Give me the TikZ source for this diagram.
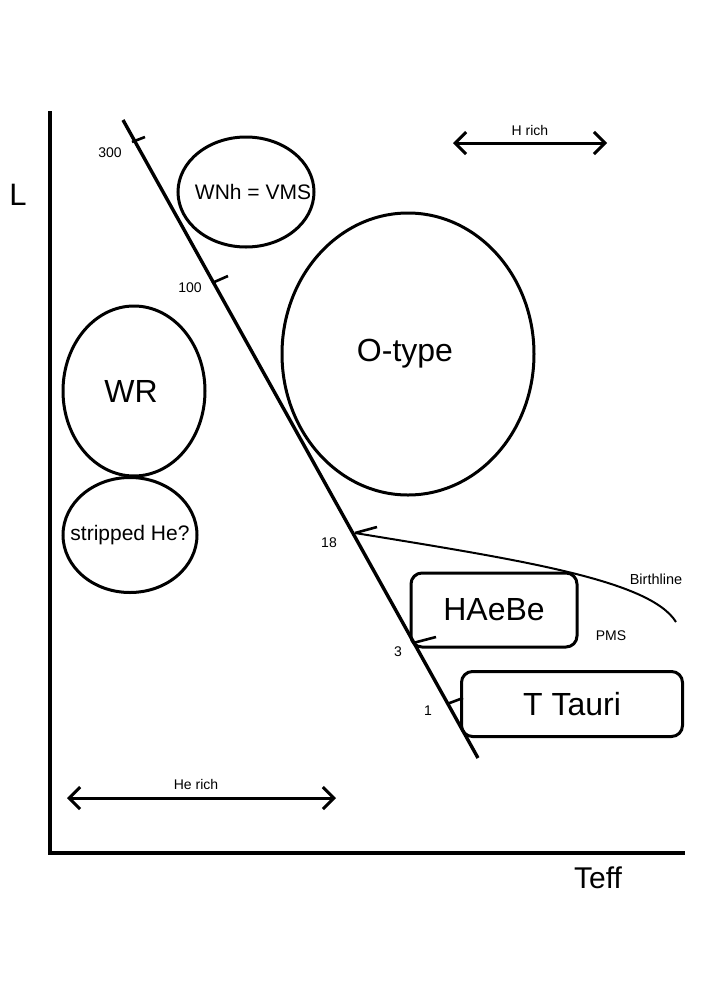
\documentclass[tikz,border=0pt]{standalone}
\usepackage{fontspec}
\setmainfont{Liberation Sans}
\usetikzlibrary{shapes.geometric,arrows.meta}
\begin{document}
\begin{tikzpicture}[x=1pt,y=-1pt,
  blob/.style={ellipse,draw,line width=3pt,inner sep=0pt},
  rbox/.style={rectangle,draw,line width=3pt,rounded corners=11pt,inner sep=0pt},
  bigtxt/.style={font=\fontsize{32}{36}\selectfont},
  midtxt/.style={font=\fontsize{21}{25}\selectfont},
  smalltxt/.style={font=\fontsize{14.5}{17}\selectfont},
  ticktxt/.style={font=\fontsize{14}{16}\selectfont},
  tickmark/.style={line width=2.6pt},
  richarrow/.style={line width=3pt,{Straight Barb[length=11pt,width=22pt,line width=3pt]}-{Straight Barb[length=11pt,width=22pt,line width=3pt]}},
  birth/.style={line width=2pt}]
\useasboundingbox (0,0) rectangle (709,1002);

% axes
\coordinate (ytop) at (50,111);
\coordinate (origin) at (50,853);
\coordinate (xend) at (685,853);
\draw[line width=3.6pt] (ytop) -- (origin) -- (xend);
\node[font=\fontsize{31}{36}\selectfont] (L) at (18,195) {L};
\node[font=\fontsize{30}{36}\selectfont] (Teff) at (598,878) {Teff};

% main sequence
\coordinate (msTop) at (123,120);
\coordinate (msBot) at (478,758);
\draw[line width=3.4pt] (msTop) -- (msBot);

% ticks
\coordinate (t300a) at (132,142); \coordinate (t300b) at (145,137);
\coordinate (t100a) at (212,283); \coordinate (t100b) at (228,276);
\coordinate (t18a) at (355,533);  \coordinate (t18b) at (377,527);
\coordinate (t3a) at (413,643);   \coordinate (t3b) at (436,637);
\coordinate (t1a) at (447,704);   \coordinate (t1b) at (463,698);
\draw[tickmark] (t300a) -- (t300b);
\draw[tickmark] (t100a) -- (t100b);
\draw[tickmark] (t18a) -- (t18b);
\draw[tickmark] (t3a) -- (t3b);
\draw[tickmark] (t1a) -- (t1b);
\node[ticktxt] (l300) at (110,153) {300};
\node[ticktxt] (l100) at (190,288) {100};
\node[ticktxt] (l18) at (329,543) {18};
\node[ticktxt] (l3) at (398,652) {3};
\node[ticktxt] (l1) at (428,711) {1};

% birthline
\coordinate (bEnd) at (676,622);
\draw[birth] (t18a) .. controls (520,560) and (650,580) .. (bEnd);
\node[smalltxt] (birthlbl) at (656,579) {Birthline};
\node[ticktxt] (pms) at (611,636) {PMS};

% ellipses
\node[blob,minimum width=136pt,minimum height=110pt] (wnh) at (246,192) {};
\node[midtxt] (wnhtxt) at ([xshift=7pt]wnh.center) {WNh = VMS};
\node[blob,minimum width=252pt,minimum height=282pt] (otype) at (408,354) {};
\node[bigtxt] (otypetxt) at ([xshift=-3pt]otype.center) {O-type};
\node[blob,minimum width=142pt,minimum height=170pt] (wr) at (134,391) {};
\node[bigtxt] (wrtxt) at ([xshift=-3pt]wr.center) {WR};
\node[blob,minimum width=134pt,minimum height=115pt] (strip) at (130,535) {};
\node[midtxt] (striptxt) at (strip.center) {stripped He?};

% boxes
\node[rbox,minimum width=166pt,minimum height=74pt,bigtxt] (haebe) at (494,610) {HAeBe};
\node[rbox,minimum width=221pt,minimum height=65pt,bigtxt] (ttauri) at (572,704) {T Tauri};

% composition arrows
\coordinate (hL) at (453,143); \coordinate (hR) at (607,143);
\draw[richarrow] (hL) -- (hR);
\node[ticktxt] (hrich) at (530,130) {H rich};
\coordinate (heL) at (67,798); \coordinate (heR) at (336,798);
\draw[richarrow] (heL) -- (heR);
\node[ticktxt] (herich) at (196,784) {He rich};
\end{tikzpicture}
\end{document}
